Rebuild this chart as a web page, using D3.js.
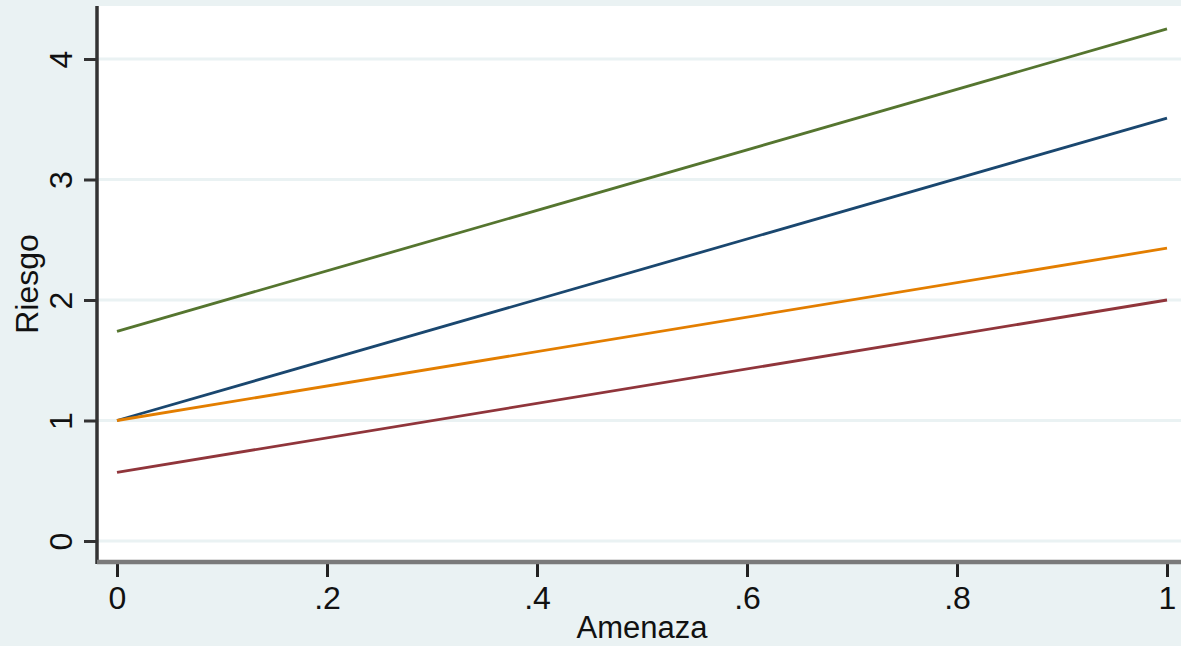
<!DOCTYPE html>
<html>
<head>
<meta charset="utf-8">
<script src="https://cdn.jsdelivr.net/npm/d3@7"></script>
<style>
html,body{margin:0;padding:0;background:#eaf2f3;}
svg{display:block;}
text{font-family:"Liberation Sans",Arial,sans-serif;fill:#111;}
</style>
</head>
<body>
<svg id="chart" width="1181" height="646"></svg>
<script>
// Data
const xDomain = [0, 1];
const xTickValues = [0, 0.2, 0.4, 0.6, 0.8, 1];
const xTickLabels = ["0", ".2", ".4", ".6", ".8", "1"];
const yTickValues = [0, 1, 2, 3, 4];
const yTickLabels = ["0", "1", "2", "3", "4"];
const seriesNames = ["green", "navy", "orange", "maroon"];
const seriesColors = ["#55752f", "#1a476f", "#e37e00", "#90353b"];
const seriesStart = [1.74, 1.0, 1.0, 0.57];
const seriesEnd = [4.25, 3.51, 2.43, 2.0];
const xLabel = "Amenaza";
const yLabel = "Riesgo";

const W = 1181, H = 646;
const plot = {left: 97, top: 6, right: 1181, bottom: 562};

const svg = d3.select("#chart");
const x = d3.scaleLinear().domain(xDomain).range([117, 1167]);
const y = d3.scaleLinear().domain([0, 4]).range([541, 59]);

// background
svg.append("rect").attr("width", W).attr("height", H).attr("fill", "#eaf2f3");
svg.append("rect").attr("x", plot.left).attr("y", plot.top)
  .attr("width", plot.right - plot.left).attr("height", plot.bottom - plot.top)
  .attr("fill", "#ffffff");

// gridlines
svg.append("g").selectAll("line").data(yTickValues).join("line")
  .attr("x1", plot.left).attr("x2", plot.right)
  .attr("y1", d => y(d)).attr("y2", d => y(d))
  .attr("stroke", "#eaf2f3").attr("stroke-width", 3);

// lines
const data = seriesNames.map((n, i) => ({name: n, color: seriesColors[i],
  pts: [[0, seriesStart[i]], [1, seriesEnd[i]]]}));
const lineGen = d3.line().x(d => x(d[0])).y(d => y(d[1]));
svg.append("g").selectAll("path").data(data).join("path")
  .attr("d", d => lineGen(d.pts))
  .attr("fill", "none").attr("stroke", d => d.color).attr("stroke-width", 2.8);

// y axis
const yAxis = d3.axisLeft(y).tickValues(yTickValues).tickFormat((d, i) => yTickLabels[i])
  .tickSize(13).tickPadding(12);
const gy = svg.append("g").attr("transform", `translate(${plot.left},0)`).call(yAxis);
gy.select(".domain").remove();
gy.selectAll(".tick line").attr("stroke", "#333").attr("stroke-width", 3);
gy.selectAll(".tick text")
  .attr("font-size", 32).attr("fill", "#111")
  .attr("x", 0).attr("y", 0).attr("dy", 0)
  .attr("text-anchor", "middle")
  .attr("transform", "translate(-25,0) rotate(-90)");
svg.append("line").attr("x1", plot.left).attr("x2", plot.left)
  .attr("y1", plot.top).attr("y2", plot.bottom + 2)
  .attr("stroke", "#333").attr("stroke-width", 3.5);

// x axis
const xAxis = d3.axisBottom(x).tickValues(xTickValues).tickFormat((d, i) => xTickLabels[i])
  .tickSize(15).tickPadding(8);
const gx = svg.append("g").attr("transform", `translate(0,${plot.bottom})`).call(xAxis);
gx.select(".domain").remove();
gx.selectAll(".tick line").attr("stroke", "#222").attr("stroke-width", 3);
gx.selectAll(".tick text").attr("font-size", 32).attr("fill", "#111").attr("dy", "0.75em");
svg.append("line").attr("x1", plot.left).attr("x2", plot.right)
  .attr("y1", plot.bottom).attr("y2", plot.bottom)
  .attr("stroke", "#7a7a7a").attr("stroke-width", 4.5);

// axis titles
svg.append("text").attr("x", (x(0) + x(1)) / 2).attr("y", 638)
  .attr("text-anchor", "middle").attr("font-size", 31).text(xLabel);
svg.append("text").attr("transform", `translate(38,${(plot.top + plot.bottom) / 2}) rotate(-90)`)
  .attr("text-anchor", "middle").attr("font-size", 32).text(yLabel);
</script>
</body>
</html>
